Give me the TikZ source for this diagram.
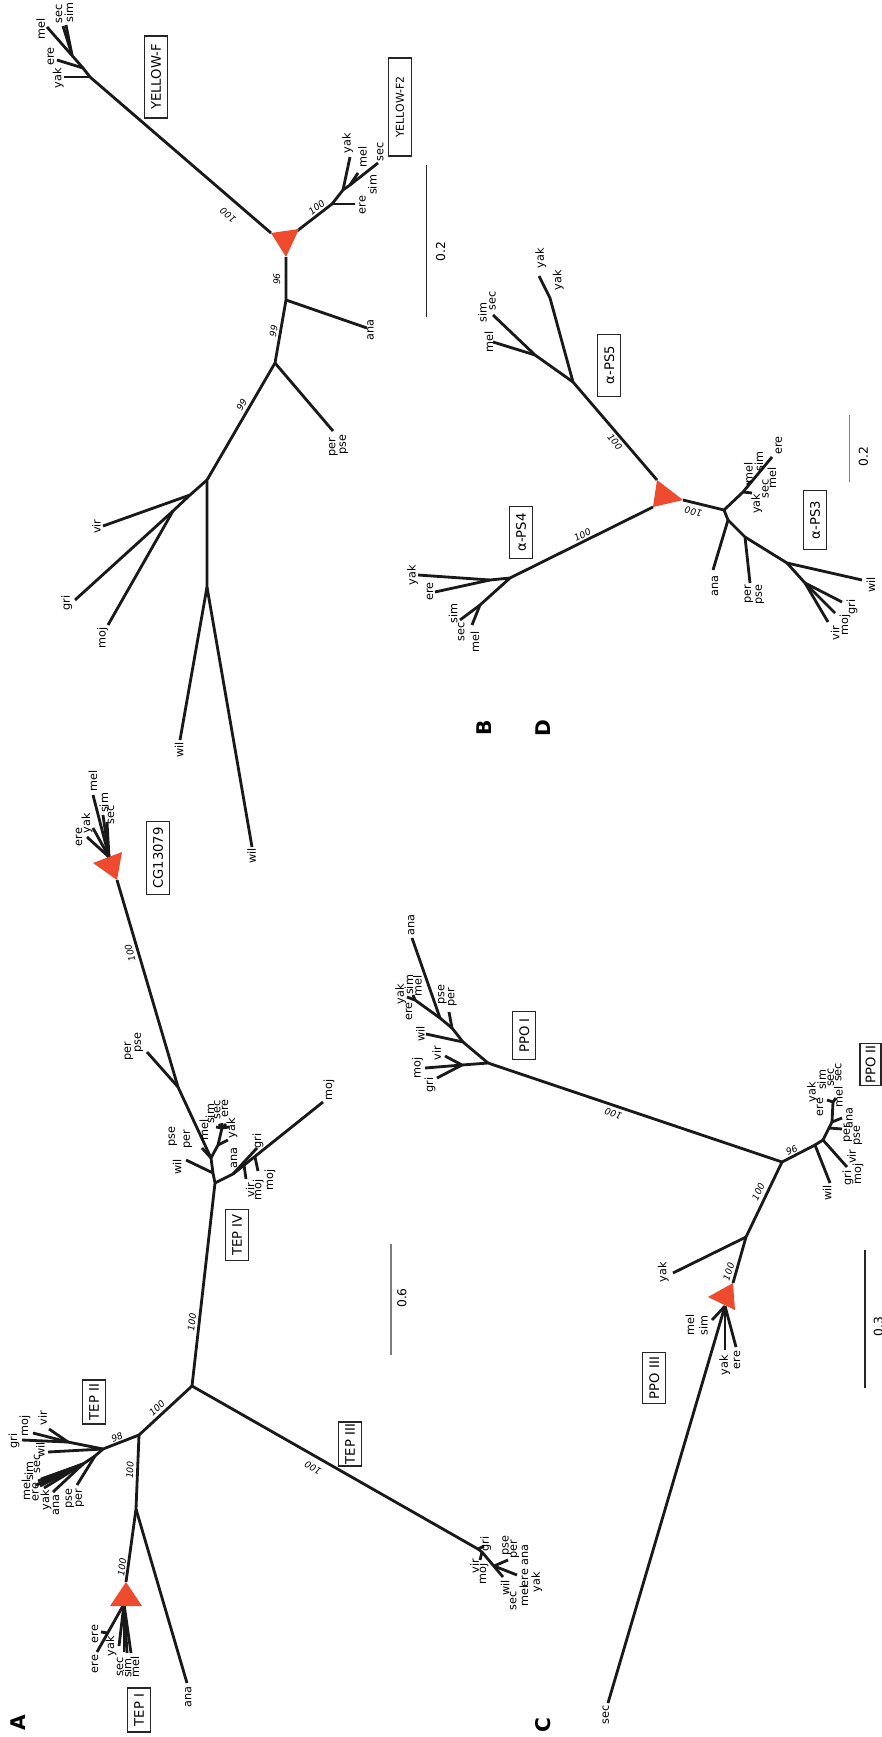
\documentclass[tikz,border=0pt]{standalone}
\usepackage{fontspec}
\setmainfont{DejaVu Sans}
\definecolor{dupred}{RGB}{238,74,46}
\definecolor{bargrey}{RGB}{125,125,125}
\tikzstyle{branch} = [line width=1.6pt, draw=black!90]
\tikzstyle{leaf} = [rotate=90, inner sep=0pt, font=\fontsize{6.4}{6.4}\selectfont]
\tikzstyle{boot} = [inner sep=0pt, font=\fontsize{5.2}{5.2}\selectfont\itshape]
\tikzstyle{gene} = [draw=black!85, line width=0.6pt, rotate=90, inner sep=0pt, minimum height=0.46cm, font=\fontsize{7.5}{7.5}\selectfont]
\tikzstyle{panel} = [rotate=90, inner sep=0pt, font=\fontsize{11.5}{11.5}\selectfont\bfseries]
\tikzstyle{scalebar} = [line width=0.7pt]
\tikzstyle{dup} = [fill=dupred]
\newcommand{\leaflabel}[3]{\node [leaf] (#1) at (#2) {#3};}

\begin{document}
\begin{tikzpicture}[x=0.02cm, y=-0.02cm]
\useasboundingbox (0,0) rectangle (882,1737);

% A: TEP
\coordinate (a0) at (192,1386);
\coordinate (a2) at (139,1435);
\coordinate (a3) at (136,1509);
\coordinate (a4) at (103,1449);
\coordinate (a4a) at (68,1442);
\coordinate (a4b) at (95,1456);
\coordinate (a4c) at (83,1464);
\coordinate (agri) at (22,1440);
\coordinate (amoj) at (33,1433);
\coordinate (avir) at (49,1429);
\coordinate (awil) at (48,1452);
\coordinate (amel) at (36,1485);
\coordinate (asim) at (38,1481);
\coordinate (asec) at (41,1479);
\coordinate (aere) at (40,1486);
\coordinate (ayak) at (44,1488);
\coordinate (aana) at (53,1492);
\coordinate (apse) at (77,1485);
\coordinate (at1) at (126,1582);
\coordinate (at2) at (110,1606);
\coordinate (at3) at (142,1606);
\coordinate (atb) at (124,1604);
\coordinate (aere1) at (97,1652);
\coordinate (aes) at (108,1633);
\coordinate (aere2) at (101,1632);
\coordinate (ayak1) at (119,1646);
\coordinate (asec1) at (124,1652);
\coordinate (asim1) at (127,1653);
\coordinate (amel1) at (131,1653);
\coordinate (aana1) at (187,1683);
\coordinate (a5) at (215,1183);
\coordinate (a5w) at (213,1173);
\coordinate (a5p) at (211,1158);
\coordinate (a5q) at (218,1145);
\coordinate (a5c) at (222,1128);
\coordinate (a5r) at (233,1174);
\coordinate (a6) at (178,1087);
\coordinate (awil4) at (186,1160);
\coordinate (apse4) at (202,1148);
\coordinate (aana4) at (228,1140);
\coordinate (amel4) at (216,1127);
\coordinate (asim4) at (219,1124);
\coordinate (asec4) at (222,1123);
\coordinate (aere4) at (226,1124);
\coordinate (ayak4) at (229,1127);
\coordinate (agri4) at (257,1148);
\coordinate (amoj4) at (323,1102);
\coordinate (as41) at (244,1165);
\coordinate (avir4) at (246,1179);
\coordinate (as42) at (255,1157);
\coordinate (amoj5) at (258,1171);
\coordinate (apse6) at (147,1052);
\coordinate (ac1) at (122,852);
\coordinate (ac2) at (93,863);
\coordinate (ac3) at (117,880);
\coordinate (acb) at (109,857);
\coordinate (aere6) at (87,837);
\coordinate (ayak6) at (93,828);
\coordinate (amel6) at (93,795);
\coordinate (asim6) at (103,815);
\coordinate (asec6) at (107,822);
\coordinate (a7) at (478,1549);
\coordinate (a7a) at (482,1552);
\coordinate (agri7) at (484,1546);
\coordinate (avir7) at (480,1560);
\coordinate (awil7) at (503,1577);
\coordinate (a7b) at (494,1566);
\coordinate (apse7) at (508,1560);
\coordinate (a7c) at (517,1575);

\draw[branch] (a0) -- (a2) -- (a3) -- (at1);
\draw[branch] (a2) -- (a4) -- (a4a) -- (agri);
\draw[branch] (a4a) -- (amoj);
\draw[branch] (a4a) -- (avir);
\draw[branch] (a4) -- (awil);
\draw[branch] (a4) -- (a4b) -- (apse);
\draw[branch] (a4b) -- (a4c) -- (aana);
\draw[branch] (a4c) -- (amel);
\draw[branch] (a4c) -- (asim);
\draw[branch] (a4c) -- (asec);
\draw[branch] (a4c) -- (aere);
\draw[branch] (a4c) -- (ayak);
\draw[branch] (a3) -- (aana1);
\draw[branch] (atb) -- (aere1);
\draw[branch] (aes) -- (aere2);
\draw[branch] (atb) -- (ayak1);
\draw[branch] (atb) -- (asec1);
\draw[branch] (atb) -- (asim1);
\draw[branch] (atb) -- (amel1);
\draw[branch] (a0) -- (a5) -- (a5w) -- (a5p) -- (a6) -- (ac3);
\draw[branch] (a5w) -- (awil4);
\draw[branch] (a5p) -- (apse4);
\draw[branch] (a5p) -- (a5q) -- (a5c) -- (asec4);
\draw[branch] (a5q) -- (aana4);
\draw[branch] (a5c) -- (amel4);
\draw[branch] (a5c) -- (asim4);
\draw[branch] (a5c) -- (aere4);
\draw[branch] (a5c) -- (ayak4);
\draw[branch] (a5) -- (a5r) -- (amoj4);
\draw[branch] (a5r) -- (agri4);
\draw[branch] (as41) -- (avir4);
\draw[branch] (as42) -- (amoj5);
\draw[branch] (a6) -- (apse6);
\draw[branch] (acb) -- (aere6);
\draw[branch] (acb) -- (ayak6);
\draw[branch] (acb) -- (amel6);
\draw[branch] (acb) -- (asim6);
\draw[branch] (acb) -- (asec6);
\draw[branch] (a0) -- (a7) -- (a7a) -- (awil7);
\draw[branch] (a7) -- (agri7);
\draw[branch] (a7a) -- (avir7);
\draw[branch] (a7b) -- (apse7);
\draw[branch] (a7b) -- (a7c);
\fill[dup] (at1) -- (at2) -- (at3) -- cycle;
\fill[dup] (ac1) -- (ac2) -- (ac3) -- cycle;

\node[boot, rotate=43] (ba1) at (157,1408) {100};
\node[boot, rotate=21] (ba2) at (117,1437) {98};
\node[boot, rotate=87] (ba3) at (130,1470) {100};
\node[boot, rotate=82] (ba4) at (122,1567) {100};
\node[boot, rotate=83] (ba5) at (192,1322) {100};
\node[boot, rotate=106] (ba6) at (130,953) {100};
\node[boot, rotate=150.5] (ba7) at (313,1468) {100};

\leaflabel{la1}{14,1441}{gri}
\leaflabel{la2}{25,1426}{moj}
\leaflabel{la3}{42.5,1418}{vir}
\leaflabel{la4}{40.3,1450}{wil}
\leaflabel{la5}{37,1464}{sec}
\leaflabel{la6}{29,1471}{sim}
\leaflabel{la7}{26,1490}{mel}
\leaflabel{la8}{35.5,1492}{ere}
\leaflabel{la9}{46,1500}{yak}
\leaflabel{la10}{56,1505}{ana}
\leaflabel{la11}{70,1499}{pse}
\leaflabel{la12}{80,1498}{per}
\leaflabel{la13}{95,1634}{ere}
\leaflabel{la14}{95,1664}{ere}
\leaflabel{la15}{111,1646}{yak}
\leaflabel{la16}{120,1667}{sec}
\leaflabel{la17}{127.3,1668}{sim}
\leaflabel{la18}{135,1667}{mel}
\leaflabel{la19}{188.3,1697}{ana}
\leaflabel{la20}{177,1167}{wil}
\leaflabel{la21}{173,1137}{pse}
\leaflabel{la22}{188,1139}{per}
\leaflabel{la23}{204,1130}{mel}
\leaflabel{la24}{210,1114}{sim}
\leaflabel{la25}{217.3,1110}{sec}
\leaflabel{la26}{225,1108.3}{ere}
\leaflabel{la27}{232,1128}{yak}
\leaflabel{la28}{234,1158}{ana}
\leaflabel{la29}{258,1141}{gri}
\leaflabel{la30}{250,1190}{vir}
\leaflabel{la31}{258.3,1190}{moj}
\leaflabel{la32}{270,1180}{moj}
\leaflabel{la33}{329,1090}{moj}
\leaflabel{la34}{129,1051}{per}
\leaflabel{la35}{139,1043}{pse}
\leaflabel{la36}{79,837}{ere}
\leaflabel{la37}{87,823}{yak}
\leaflabel{la38}{93,781}{mel}
\leaflabel{la39}{104,803}{sim}
\leaflabel{la40}{111,815}{sec}
\leaflabel{la41}{474.7,1566}{vir}
\leaflabel{la42}{483,1574}{moj}
\leaflabel{la43}{485.8,1544}{gri}
\leaflabel{la44}{505,1588}{wil}
\leaflabel{la45}{513.3,1601}{sec}
\leaflabel{la46}{524,1596}{mel}
\leaflabel{la47}{525,1578}{ere}
\leaflabel{la48}{525,1555}{ana}
\leaflabel{la49}{536.7,1582}{yak}
\leaflabel{la50}{506.7,1546}{pse}
\leaflabel{la51}{515,1549}{per}

\node[gene, minimum width=0.88cm] (tep1) at (139,1710) {TEP I};
\node[gene, minimum width=0.88cm] (tep2) at (94,1402) {TEP II};
\node[gene, minimum width=0.88cm] (tep3) at (350,1444) {TEP III};
\node[gene, minimum width=1.02cm] (tep4) at (237,1235) {TEP IV};
\node[gene, minimum width=1.46cm] (cg) at (158,858) {CG13079};
\coordinate (sa1) at (391,1244);
\coordinate (sa2) at (391,1355);
\draw[scalebar, bargrey] (sa1) -- (sa2);
\node[leaf, font=\fontsize{7}{7}\selectfont] (sal) at (402,1298) {0.6};
\node[panel] (pa) at (18,1723) {A};

% B: YELLOW
\coordinate (bt1) at (271,233);
\coordinate (bt2) at (299,229);
\coordinate (bt3) at (286,257);
\coordinate (bf0) at (297,231);
\coordinate (byf0) at (90,77);
\coordinate (byf1) at (83,68);
\coordinate (byf2) at (72,55);
\coordinate (byak) at (64,77);
\coordinate (bere) at (57,60);
\coordinate (bmel) at (47,27);
\coordinate (bsec) at (63,26);
\coordinate (bsim) at (66,25);
\coordinate (bf1) at (332,204);
\coordinate (bere2) at (355,204);
\coordinate (bf2) at (343,190);
\coordinate (byak2) at (350,157);
\coordinate (bf3) at (350,185);
\coordinate (bmel2) at (358,173);
\coordinate (bsec2) at (378,163);
\coordinate (b1) at (286,300);
\coordinate (bana) at (367,328);
\coordinate (bpp) at (275,363);
\coordinate (bper) at (333,431);
\coordinate (b6) at (207,480);
\coordinate (bv) at (190,495);
\coordinate (bvir) at (103,526);
\coordinate (bg) at (173,511);
\coordinate (bgri) at (75,600);
\coordinate (bmoj) at (108,625);
\coordinate (b7) at (207,587);
\coordinate (bwil) at (180,740);
\coordinate (bwil2) at (252,847);

\draw[branch] (bt1) -- (byf0) -- (byf1) -- (bmel);
\draw[branch] (byf0) -- (byak);
\draw[branch] (byf1) -- (bere);
\draw[branch] (byf2) -- (bsec);
\draw[branch] (byf2) -- (bsim);
\draw[branch] (bf0) -- (bf1) -- (bf2) -- (bf3) -- (bsec2);
\draw[branch] (bf1) -- (bere2);
\draw[branch] (bf2) -- (byak2);
\draw[branch] (bf3) -- (bmel2);
\draw[branch] (bt3) -- (b1) -- (bpp) -- (b6) -- (b7) -- (bwil);
\draw[branch] (b7) -- (bwil2);
\draw[branch] (b1) -- (bana);
\draw[branch] (bpp) -- (bper);
\draw[branch] (b6) -- (bv) -- (bvir);
\draw[branch] (bv) -- (bg) -- (bgri);
\draw[branch] (bg) -- (bmoj);
\fill[dup] (bt1) -- (bt2) -- (bt3) -- cycle;

\node[boot, rotate=140] (bb1) at (228,215) {100};
\node[boot, rotate=38] (bb2) at (316.7,207.5) {100};
\node[boot, rotate=90] (bb3) at (276.7,279) {96};
\node[boot, rotate=80] (bb4) at (273.5,331) {99};
\node[boot, rotate=60] (bb5) at (241.7,405) {99};

\leaflabel{lb1}{58.3,78.3}{yak}
\leaflabel{lb2}{50.8,56.7}{ere}
\leaflabel{lb3}{40.8,29}{mel}
\leaflabel{lb4}{59,14}{sec}
\leaflabel{lb5}{69,12.5}{sim}
\leaflabel{lb6}{362.5,205}{ere}
\leaflabel{lb7}{347.5,143}{yak}
\leaflabel{lb8}{362.5,156.7}{mel}
\leaflabel{lb9}{380.3,151.7}{sec}
\leaflabel{lb10}{372.5,185}{sim}
\leaflabel{lb11}{370.5,330}{ana}
\leaflabel{lb12}{333.3,447.5}{per}
\leaflabel{lb13}{344,445}{pse}
\leaflabel{lb14}{96.3,526.7}{vir}
\leaflabel{lb15}{66.7,603.3}{gri}
\leaflabel{lb16}{102.5,638.3}{moj}
\leaflabel{lb17}{179,750}{wil}
\leaflabel{lb18}{251.7,856}{wil}

\node[gene, minimum width=1.64cm] (yf) at (156,77) {YELLOW-F};
\node[gene, minimum width=1.96cm, font=\fontsize{6.2}{6.2}\selectfont] (yf2) at (400,107) {YELLOW-F2};
\coordinate (sb1) at (426.7,165);
\coordinate (sb2) at (426.7,316.7);
\draw[scalebar, black!85] (sb1) -- (sb2);
\node[leaf, font=\fontsize{7}{7}\selectfont] (sbl) at (440.7,251.7) {0.2};
\node[panel] (pb) at (484,728) {B};

% D: alpha-PS
\coordinate (dt1) at (657,480);
\coordinate (dt2) at (683,500);
\coordinate (dt3) at (653,507);
\coordinate (d5) at (573,382);
\coordinate (d5y) at (550,298);
\coordinate (dyak) at (539,276);
\coordinate (d5m) at (535,355);
\coordinate (dsec) at (493,315);
\coordinate (dmel) at (493,342);
\coordinate (d4) at (510,578);
\coordinate (d4e) at (490,580);
\coordinate (dyak4) at (418,575);
\coordinate (dere4) at (435,592);
\coordinate (d4s) at (480,605);
\coordinate (dsec4) at (460,620);
\coordinate (dmel4) at (472,625);
\coordinate (d3) at (724,510);
\coordinate (d3u) at (743,492);
\coordinate (dere3) at (772,457);
\coordinate (dyak3) at (752,493);
\coordinate (d3s) at (752,481);
\coordinate (dmel3) at (747,485);
\coordinate (d3a) at (728,520);
\coordinate (dana3) at (713,570);
\coordinate (d3p) at (745,537);
\coordinate (dper3) at (750,583);
\coordinate (d3w) at (787,563);
\coordinate (dwil3) at (862,580);
\coordinate (d3g) at (805,583);
\coordinate (dgri3) at (842,602);
\coordinate (dmoj3) at (835,613);
\coordinate (dvir3) at (828,622);

\draw[branch] (dt1) -- (d5) -- (d5y) -- (dyak);
\draw[branch] (d5) -- (d5m) -- (dsec);
\draw[branch] (d5m) -- (dmel);
\draw[branch] (dt3) -- (d4) -- (d4e) -- (dyak4);
\draw[branch] (d4e) -- (dere4);
\draw[branch] (d4) -- (d4s) -- (dsec4);
\draw[branch] (d4s) -- (dmel4);
\draw[branch] (dt2) -- (d3) -- (d3u) -- (dere3);
\draw[branch] (d3u) -- (dyak3);
\draw[branch] (d3s) -- (dmel3);
\draw[branch] (d3) -- (d3a) -- (dana3);
\draw[branch] (d3a) -- (d3p) -- (dper3);
\draw[branch] (d3p) -- (d3w) -- (dwil3);
\draw[branch] (d3w) -- (d3g) -- (dgri3);
\draw[branch] (d3g) -- (dmoj3);
\draw[branch] (d3g) -- (dvir3);
\fill[dup] (dt1) -- (dt2) -- (dt3) -- cycle;

\node[boot, rotate=-51] (db1) at (615,441.7) {100};
\node[boot, rotate=27] (db2) at (582.5,535) {100};
\node[boot, rotate=168] (db3) at (693.3,511.7) {100};

\leaflabel{ld1}{540.8,258.3}{yak}
\leaflabel{ld2}{558.3,280}{yak}
\leaflabel{ld3}{492.5,300.8}{sec}
\leaflabel{ld4}{482.5,312.5}{sim}
\leaflabel{ld5}{489,341.7}{mel}
\leaflabel{ld6}{412.5,575}{yak}
\leaflabel{ld7}{430,591.7}{ere}
\leaflabel{ld8}{453.3,613.8}{sim}
\leaflabel{ld9}{461.3,631.7}{sec}
\leaflabel{ld10}{475,641.7}{mel}
\leaflabel{ld11}{748.3,473.3}{mel}
\leaflabel{ld12}{759,461.7}{sim}
\leaflabel{ld13}{778.8,445.8}{ere}
\leaflabel{ld14}{756.7,503.8}{yak}
\leaflabel{ld15}{765.5,489}{sec}
\leaflabel{ld16}{772,478.3}{mel}
\leaflabel{ld17}{715,586}{ana}
\leaflabel{ld18}{749,594}{per}
\leaflabel{ld19}{760,595}{pse}
\leaflabel{ld20}{870.8,585}{wil}
\leaflabel{ld21}{852,606.7}{gri}
\leaflabel{ld22}{845,625}{moj}
\leaflabel{ld23}{835,633.3}{vir}

\node[gene, minimum width=1.24cm] (ps5) at (609.2,365.2) {α-PS5};
\node[gene, minimum width=1.04cm] (ps4) at (521,532.5) {α-PS4};
\node[gene, minimum width=1.18cm] (ps3) at (815,520) {α-PS3};
\coordinate (sd1) at (849.3,415);
\coordinate (sd2) at (849.3,481.7);
\draw[scalebar, bargrey] (sd1) -- (sd2);
\node[leaf, font=\fontsize{7}{7}\selectfont] (sdl) at (863.3,456.7) {0.2};
\node[panel] (pd) at (543,728) {D};

% C: PPO
\coordinate (cr) at (488,1063);
\coordinate (cs) at (782,1162);
\coordinate (ct) at (746,1237);
\coordinate (ci1) at (462,1065);
\coordinate (cgri1) at (437,1078);
\coordinate (cmoj1) at (425,1068);
\coordinate (cvir1) at (445,1056);
\coordinate (ci2) at (463,1042);
\coordinate (cwil1) at (426,1034);
\coordinate (ci3) at (452,1028);
\coordinate (cpse1) at (449,1012);
\coordinate (ci4) at (440,1018);
\coordinate (cana1) at (412,938);
\coordinate (ci5) at (415,1000);
\coordinate (cst1) at (407,997);
\coordinate (cst2) at (413,995);
\coordinate (cii1) at (815,1145);
\coordinate (cwil2) at (830,1183);
\coordinate (cii2) at (823,1140);
\coordinate (cgri2) at (847,1167);
\coordinate (cii3) at (829,1128);
\coordinate (cper2) at (842,1129);
\coordinate (cii4) at (832,1122);
\coordinate (cana2) at (842,1118);
\coordinate (cii5) at (833,1102);
\coordinate (cst3) at (827,1100);
\coordinate (cst4) at (836,1098);
\coordinate (cyak) at (673,1273);
\coordinate (ct1) at (733,1283);
\coordinate (ct2) at (708,1297);
\coordinate (ct3) at (735,1310);
\coordinate (ctb) at (725,1306);
\coordinate (cmel3) at (712,1320);
\coordinate (csec3) at (608,1703);
\coordinate (cyak3) at (725,1350);
\coordinate (cere3) at (736,1347);

\draw[branch] (ci1) -- (cr) -- (cs) -- (ct) -- (ct1);
\draw[branch] (ci1) -- (cgri1);
\draw[branch] (ci1) -- (cmoj1);
\draw[branch] (ci1) -- (cvir1);
\draw[branch] (cr) -- (ci2) -- (cwil1);
\draw[branch] (ci2) -- (ci3) -- (cpse1);
\draw[branch] (ci3) -- (ci4) -- (cana1);
\draw[branch] (ci4) -- (ci5) -- (cst1);
\draw[branch] (ci5) -- (cst2);
\draw[branch] (cs) -- (cii1) -- (cwil2);
\draw[branch] (cii1) -- (cii2) -- (cgri2);
\draw[branch] (cii2) -- (cii3) -- (cper2);
\draw[branch] (cii3) -- (cii4) -- (cana2);
\draw[branch] (cii4) -- (cii5) -- (cst3);
\draw[branch] (cii5) -- (cst4);
\draw[branch] (ct) -- (cyak);
\draw[branch] (ctb) -- (cmel3);
\draw[branch] (ctb) -- (csec3);
\draw[branch] (ctb) -- (cyak3);
\draw[branch] (ctb) -- (cere3);
\fill[dup] (ct1) -- (ct2) -- (ct3) -- cycle;

\node[boot, rotate=161.5] (cb1) at (613.3,1114) {100};
\node[boot, rotate=25] (cb2) at (791.7,1150) {96};
\node[boot, rotate=65] (cb3) at (758.3,1191.7) {100};
\node[boot, rotate=72] (cb4) at (728.7,1271.7) {100};

\leaflabel{lc1}{430,1085}{gri}
\leaflabel{lc2}{417.5,1068.3}{moj}
\leaflabel{lc3}{436.7,1053.3}{vir}
\leaflabel{lc4}{420.3,1034}{wil}
\leaflabel{lc5}{442.5,995}{pse}
\leaflabel{lc6}{452.5,997}{per}
\leaflabel{lc7}{411.2,925}{ana}
\leaflabel{lc8}{400.8,994}{yak}
\leaflabel{lc9}{409,985}{sim}
\leaflabel{lc10}{417.5,986}{mel}
\leaflabel{lc11}{409,1011.7}{ere}
\leaflabel{lc12}{827,1193}{wil}
\leaflabel{lc13}{848,1178}{gri}
\leaflabel{lc14}{858,1174}{moj}
\leaflabel{lc15}{851.7,1156.7}{vir}
\leaflabel{lc16}{848,1133}{per}
\leaflabel{lc17}{858,1136}{pse}
\leaflabel{lc18}{849.5,1118}{ana}
\leaflabel{lc19}{812.5,1092.5}{yak}
\leaflabel{lc20}{820,1107}{ere}
\leaflabel{lc21}{821.7,1080}{sim}
\leaflabel{lc22}{830.7,1077.5}{sec}
\leaflabel{lc23}{838.3,1096.7}{mel}
\leaflabel{lc24}{838.3,1072.5}{sec}
\leaflabel{lc25}{663.3,1272}{yak}
\leaflabel{lc26}{690,1325}{mel}
\leaflabel{lc27}{703.3,1325.5}{sim}
\leaflabel{lc28}{724.7,1365}{yak}
\leaflabel{lc29}{737,1360}{ere}
\leaflabel{lc30}{605.8,1715}{sec}

\node[gene, minimum width=0.96cm] (ppo1) at (524.3,1035.5) {PPO I};
\node[gene, minimum width=0.84cm, minimum height=0.42cm] (ppo2) at (870.5,1064.6) {PPO II};
\node[gene, minimum width=1.02cm] (ppo3) at (654.3,1378) {PPO III};
\coordinate (sc1) at (865,1250);
\coordinate (sc2) at (865,1388);
\draw[scalebar, black!85] (sc1) -- (sc2);
\node[leaf, font=\fontsize{7}{7}\selectfont] (scl) at (878.3,1326.7) {0.3};
\node[panel] (pc) at (543.3,1725) {C};
\end{tikzpicture}
\end{document}
